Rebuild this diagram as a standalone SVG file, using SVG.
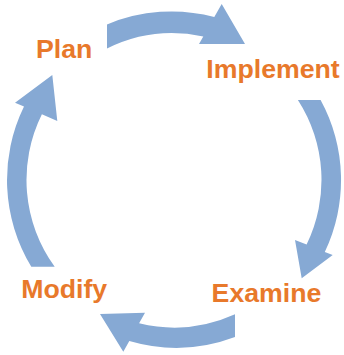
<svg xmlns="http://www.w3.org/2000/svg" width="344" height="355" viewBox="0 0 344 355">
  <style>
    .arrow { fill: #86A9D4; stroke: none; }
    .label { font-family: "Liberation Sans", Arial, sans-serif; font-weight: bold; font-size: 26.7px; fill: #E8792B; text-anchor: middle; }
  </style>
  <rect width="344" height="355" fill="#FFFFFF"/>
  <g id="connectors">
    <path id="arrow-plan-implement" class="arrow" d="M 107,24.5 A 167 167 0 0 1 214.3,17 L 221.7,4 L 245,44 L 199,44 L 203.3,36.5 A 147.5 147.5 0 0 0 107,48.5 Z"/>
    <path id="arrow-implement-examine" class="arrow" d="M 320.6,100 A 167 167 0 0 1 324.8,251.9 L 332.7,255 L 301.7,278.3 L 295,240 L 306.6,244.6 A 147.5 147.5 0 0 0 297.9,100 Z"/>
    <path id="arrow-examine-modify" class="arrow" d="M 235,337 A 167 167 0 0 1 129.3,341 L 123.3,351.7 L 100,314 L 145,312.7 L 139.1,323.3 A 147.5 147.5 0 0 0 235,314.3 Z"/>
    <path id="arrow-modify-plan" class="arrow" d="M 54.7,266.7 L 31.3,266.7 A 167 167 0 0 1 24,106.6 L 15,102.7 L 52.3,75 L 57.3,121 L 41.9,114.3 A 147.5 147.5 0 0 0 54.7,266.7 Z"/>
  </g>
  <g id="node-plan"><text class="label" x="64.2" y="58.3">Plan</text></g>
  <g id="node-implement"><text class="label" x="273" y="77.5">Implement</text></g>
  <g id="node-examine"><text class="label" x="266.5" y="302">Examine</text></g>
  <g id="node-modify"><text class="label" x="64.2" y="298.3">Modify</text></g>
</svg>
